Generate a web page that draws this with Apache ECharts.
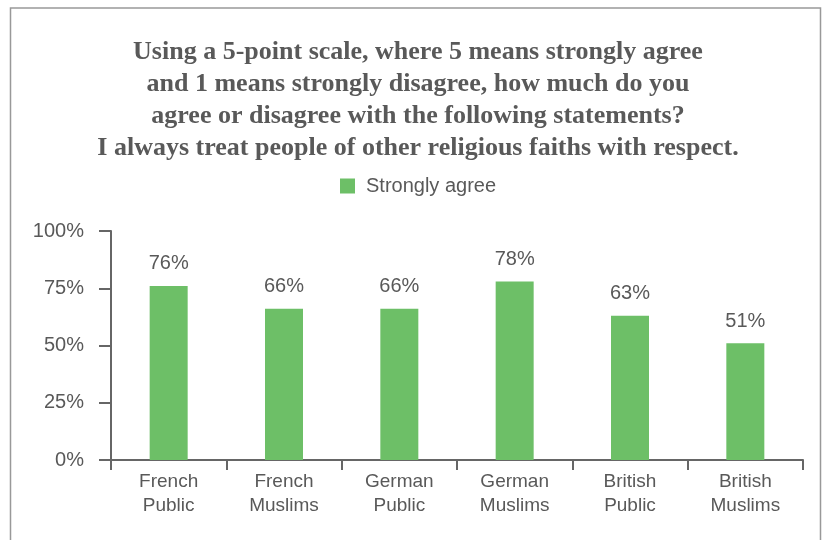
<!DOCTYPE html>
<html><head><meta charset="utf-8">
<script src="https://cdn.jsdelivr.net/npm/echarts@6/dist/echarts.min.js"></script>
<style>html,body{margin:0;padding:0;background:#fff}#c{width:822px;height:540px}</style>
</head><body><div id="c"></div>
<script>
const categories = ['French\nPublic','French\nMuslims','German\nPublic','German\nMuslims','British\nPublic','British\nMuslims'];
const stronglyAgree = [76, 66, 66, 78, 63, 51];
const yTicks = [0, 25, 50, 75, 100];
const titleLines = ['Using a 5-point scale, where 5 means strongly agree','and 1 means strongly disagree, how much do you','agree or disagree with the following statements?','I always treat people of other religious faiths with respect.'];
const seriesName = 'Strongly agree';

const chart = echarts.init(document.getElementById('c'), null, {renderer:'canvas'});
const textColor = '#595959';
chart.setOption({
  animation:false,
  graphic:[{type:'rect', shape:{x:10.5, y:8, width:810, height:600}, style:{fill:'none', stroke:'#999', lineWidth:1.5}, z:-1}],
  title:{text:titleLines.join('\n'), left:413, textAlign:'center', top:31, textStyle:{fontFamily:'Liberation Serif', fontWeight:'bold', fontSize:26, lineHeight:32, color:textColor}},
  legend:{data:[seriesName], top:171, left:335, itemWidth:15, itemHeight:15, itemGap:11, icon:'rect', textStyle:{fontFamily:'Liberation Sans', fontSize:20, color:textColor, padding:[0,0,0,6]}},
  grid:{left:111, right:19, top:231, bottom:80, containLabel:false},
  xAxis:{type:'category', data:categories, axisLine:{lineStyle:{color:'#666', width:2}}, axisTick:{show:true, length:10, lineStyle:{color:'#666', width:2}}, axisLabel:{fontFamily:'Liberation Sans', fontSize:19, color:textColor, lineHeight:24, margin:10}},
  yAxis:{type:'value', min:0, max:100, interval:25, axisLine:{show:true, lineStyle:{color:'#666', width:2}}, axisTick:{show:true, inside:false, length:12, lineStyle:{color:'#666', width:2}}, splitLine:{show:false}, axisLabel:{fontFamily:'Liberation Sans', fontSize:20, color:textColor, margin:27, formatter:v=> yTicks.includes(v) ? v+'%' : ''}},
  series:[{name:seriesName, type:'bar', data:stronglyAgree, barWidth:38, itemStyle:{color:'#6dbf67'}, label:{show:true, position:'top', distance:12, formatter:p=>p.value+'%', fontFamily:'Liberation Sans', fontSize:20, color:textColor}}]
});
</script></body></html>
